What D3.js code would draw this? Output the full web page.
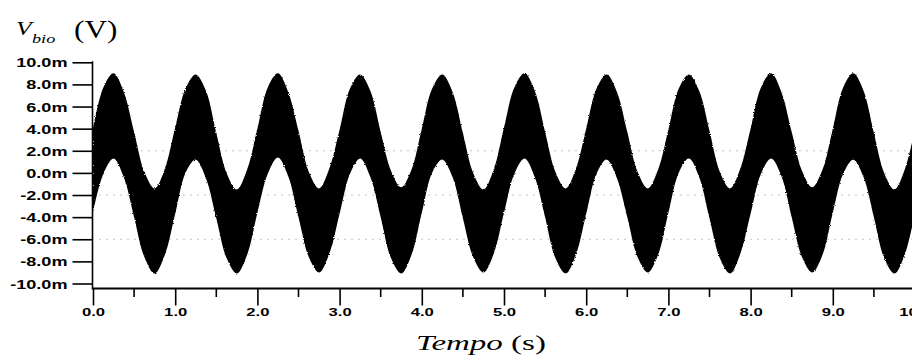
<!DOCTYPE html>
<html>
<head>
<meta charset="utf-8">
<script src="https://cdn.jsdelivr.net/npm/d3@7"></script>
<style>
  html, body { margin: 0; padding: 0; background: #fff; }
  svg { display: block; }
</style>
</head>
<body>
<svg id="chart" width="912" height="361"></svg>
<script>
// Bio-voltage record: envelope of the fast oscillation, sampled every 0.125 s (values in mV)
const sampleStep = 0.125;
const vbioUpper = [
   4.0, 7.7, 9.0, 7.3, 3.7, 0.1, -1.4, 0.4,
   4.1, 7.6, 8.9, 7.4, 3.6, 0.0, -1.5, 0.3,
   4.0, 7.7, 9.0, 7.3, 3.8, 0.1, -1.4, 0.4,
   3.9, 7.6, 8.9, 7.4, 3.7, 0.2, -1.3, 0.3,
   4.0, 7.6, 8.9, 7.3, 3.6, 0.0, -1.5, 0.3,
   4.1, 7.7, 9.0, 7.4, 3.7, 0.1, -1.4, 0.4,
   4.0, 7.6, 8.9, 7.3, 3.7, 0.1, -1.4, 0.3,
   3.9, 7.6, 8.9, 7.4, 3.8, 0.1, -1.4, 0.4,
   4.0, 7.7, 9.0, 7.3, 3.7, 0.2, -1.3, 0.3,
   4.0, 7.7, 9.0, 7.4, 3.6, 0.0, -1.5, 0.3,
   4.0
];
const vbioLower = [
  -3.6, -0.1, 1.3, -0.4, -4.0, -7.6, -9.1, -7.4,
  -3.7,  0.0, 1.2, -0.5, -4.1, -7.7, -9.1, -7.4,
  -3.6, -0.1, 1.4, -0.3, -4.0, -7.6, -9.0, -7.3,
  -3.7, -0.1, 1.3, -0.4, -4.0, -7.7, -9.1, -7.4,
  -3.6,  0.0, 1.2, -0.4, -4.1, -7.6, -9.0, -7.3,
  -3.6, -0.1, 1.3, -0.4, -4.0, -7.7, -9.1, -7.4,
  -3.7, -0.1, 1.2, -0.5, -4.0, -7.6, -9.0, -7.4,
  -3.6,  0.0, 1.3, -0.4, -4.1, -7.7, -9.1, -7.3,
  -3.7, -0.1, 1.3, -0.3, -4.0, -7.6, -9.0, -7.4,
  -3.6, -0.1, 1.2, -0.4, -4.0, -7.7, -9.1, -7.4,
  -3.6
];

const xTickValues = [0, 1, 2, 3, 4, 5, 6, 7, 8, 9, 10];
const xTickLabels = ["0.0", "1.0", "2.0", "3.0", "4.0", "5.0", "6.0", "7.0", "8.0", "9.0", "10.0"];
const xMinorTicks = [0.5, 1.5, 2.5, 3.5, 4.5, 5.5, 6.5, 7.5, 8.5, 9.5];
const yTickValues = [10, 8, 6, 4, 2, 0, -2, -4, -6, -8, -10];
const yTickLabels = ["10.0m", "8.0m", "6.0m", "4.0m", "2.0m", "0.0m", "-2.0m", "-4.0m", "-6.0m", "-8.0m", "-10.0m"];
const yGridValues = [2, -2, -6];

const svg = d3.select("#chart");
const stretch = 1.45;               // wide lettering of the scope printout
const tickFont = "'Liberation Sans', Arial, sans-serif";
const titleFont = "'Liberation Serif', 'Times New Roman', serif";

const x = d3.scaleLinear().domain([0, 10]).range([93, 915]);
const y = d3.scaleLinear().domain([-10, 10]).range([283.5, 62.3]);
const axisY0 = 288.5;   // baseline of the time axis
const axisX0 = 92.5;    // position of the voltage axis

// ragged edge for the dense trace
const defs = svg.append("defs");
const rough = defs.append("filter").attr("id", "rough")
  .attr("x", "-2%").attr("y", "-5%").attr("width", "104%").attr("height", "110%");
rough.append("feTurbulence").attr("type", "fractalNoise").attr("baseFrequency", 0.9)
  .attr("numOctaves", 1).attr("seed", 4).attr("result", "noise");
rough.append("feDisplacementMap").attr("in", "SourceGraphic").attr("in2", "noise")
  .attr("scale", 2.5).attr("xChannelSelector", "R").attr("yChannelSelector", "G");

// sparse dotted grid
svg.append("g").selectAll("line").data(yGridValues).join("line")
  .attr("x1", axisX0).attr("x2", 912)
  .attr("y1", d => y(d)).attr("y2", d => y(d))
  .attr("stroke", "#8a8a8a").attr("stroke-width", 1)
  .attr("stroke-dasharray", "1,6");

// signal band
const samples = vbioUpper.map((u, i) => ({ t: i * sampleStep, hi: u, lo: vbioLower[i] }));
const band = d3.area()
  .x(d => x(d.t))
  .y0(d => y(d.lo))
  .y1(d => y(d.hi))
  .curve(d3.curveCatmullRom.alpha(0.5));
svg.append("path")
  .datum(samples)
  .attr("d", band)
  .attr("fill", "#000")
  .attr("filter", "url(#rough)");

// time axis
const xAxis = svg.append("g").attr("transform", `translate(0,${axisY0})`)
  .call(d3.axisBottom(x).tickValues(xTickValues)
    .tickFormat((d, i) => xTickLabels[i]).tickSize(17));
xAxis.select(".domain").remove();
xAxis.selectAll(".tick line").attr("stroke", "#000").attr("stroke-width", 1.6);
xAxis.selectAll(".tick text")
  .attr("y", 28).attr("dy", 0)
  .attr("transform", `scale(${stretch},1)`)
  .attr("fill", "#000")
  .style("font-family", tickFont).style("font-size", "11.5px").style("font-weight", "bold");
xAxis.selectAll(".minor").data(xMinorTicks).join("line").attr("class", "minor")
  .attr("x1", d => x(d)).attr("x2", d => x(d)).attr("y1", 0).attr("y2", 8.5)
  .attr("stroke", "#000").attr("stroke-width", 1.6);

// voltage axis
const yAxis = svg.append("g").attr("transform", `translate(${axisX0},0)`)
  .call(d3.axisLeft(y).tickValues(yTickValues)
    .tickFormat((d, i) => yTickLabels[i]).tickSize(20).tickPadding(5));
yAxis.select(".domain").remove();
yAxis.selectAll(".tick line").attr("stroke", "#000").attr("stroke-width", 1.6);
yAxis.selectAll(".tick text")
  .attr("x", -25 / stretch).attr("dy", "0.36em")
  .attr("transform", `scale(${stretch},1)`)
  .attr("fill", "#000")
  .style("font-family", tickFont).style("font-size", "12.5px").style("font-weight", "bold");

// axis lines
svg.append("line").attr("x1", axisX0).attr("x2", axisX0)
  .attr("y1", y(10) - 1).attr("y2", axisY0 + 1)
  .attr("stroke", "#000").attr("stroke-width", 1.6);
svg.append("line").attr("x1", axisX0).attr("x2", 912)
  .attr("y1", axisY0).attr("y2", axisY0)
  .attr("stroke", "#000").attr("stroke-width", 2.2);

// y title: V_bio (V)
const yTitle = svg.append("g").attr("fill", "#000").style("font-family", titleFont);
yTitle.append("text").attr("transform", "translate(16,35) scale(1.35,1)")
  .style("font-size", "19px").style("font-style", "italic").text("V");
yTitle.append("text").attr("transform", "translate(32,43) scale(1.4,1)")
  .style("font-size", "13px").style("font-style", "italic").text("bio");
yTitle.append("text").attr("transform", "translate(74,38) scale(1.25,1)")
  .style("font-size", "25px").text("(V)");

// x title: Tempo (s)
const xTitle = svg.append("text")
  .attr("transform", "translate(481,350) scale(1.5,1)")
  .attr("text-anchor", "middle").attr("fill", "#000")
  .style("font-family", titleFont).style("font-size", "22px");
xTitle.append("tspan").style("font-style", "italic").text("Tempo");
xTitle.append("tspan").text(" (s)");
</script>
</body>
</html>
